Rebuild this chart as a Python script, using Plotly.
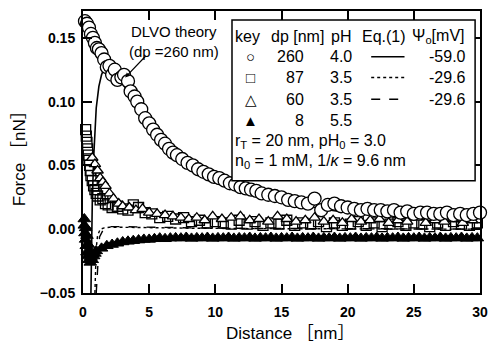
import plotly.graph_objects as go

# ---- measured force curves (distance in nm, force in nN) ----
# dp = 260 nm, pH 4.0 (open circles)
x_260 = [0.15, 0.3, 0.45, 0.6, 0.75, 0.9, 1.05, 1.2, 1.4, 1.6, 1.8, 2.0, 2.2, 2.4, 2.6,
         2.9, 3.1, 3.4, 3.6, 3.9, 4.1, 4.4, 4.7, 5.0, 5.3, 5.6, 5.9, 6.2, 6.5, 6.8, 7.1,
         7.5, 7.9, 8.3, 8.7, 9.1, 9.5, 9.9, 10.3, 10.7, 11.1, 11.5, 11.9, 12.3, 12.7,
         13.1, 13.5, 14.0, 14.5, 15.0, 15.5, 16.0, 16.5, 17.0, 17.5, 18.0, 18.5, 19.0,
         19.5, 20.0, 20.5, 21.0, 21.5, 22.0, 22.5, 23.0, 23.5, 24.0, 24.5, 25.0, 25.5,
         26.0, 26.5, 27.0, 27.5, 28.0, 28.5, 29.0, 29.5, 30.0]
f_260 = [0.163, 0.161, 0.158, 0.153, 0.150, 0.146, 0.142, 0.141, 0.138, 0.133, 0.127,
         0.128, 0.121, 0.125, 0.117, 0.119, 0.121, 0.116, 0.108, 0.104, 0.100, 0.094,
         0.087, 0.083, 0.078, 0.074, 0.070, 0.067, 0.063, 0.060, 0.058, 0.055, 0.052,
         0.050, 0.047, 0.045, 0.043, 0.041, 0.040, 0.038, 0.036, 0.035, 0.033, 0.032,
         0.031, 0.030, 0.028, 0.027, 0.026, 0.025, 0.023, 0.022, 0.021, 0.020, 0.024,
         0.015, 0.019, 0.020, 0.018, 0.017, 0.016, 0.015, 0.016, 0.015, 0.015, 0.014,
         0.015, 0.013, 0.014, 0.012, 0.013, 0.013, 0.012, 0.012, 0.013, 0.011, 0.012,
         0.011, 0.012, 0.013]

# dp = 87 nm, pH 3.5 (open squares)
x_87 = [0.2, 0.25, 0.3, 0.35, 0.4, 0.45, 0.5, 0.55, 0.6, 0.7, 0.8, 0.9, 1.0, 1.1, 1.3,
        1.5, 1.7, 1.9, 2.2, 2.6, 3.0, 3.4, 3.8, 4.2, 4.7, 5.2, 5.8, 6.4, 7.0, 7.6, 8.2,
        8.8, 9.4, 10.0, 10.6, 11.2, 11.8, 12.4, 13.0, 13.6, 14.2, 14.8, 15.4, 16.0,
        16.6, 17.2, 17.8, 18.4, 19.0, 19.6, 20.2, 20.8, 21.4, 22.0, 22.6, 23.2, 23.8,
        24.4, 25.0, 25.6, 26.2, 26.8, 27.4, 28.0, 28.6, 29.2, 29.8]
f_87 = [0.078, 0.073, 0.068, 0.063, 0.058, 0.054, 0.050, 0.046, 0.042, 0.038, 0.034,
        0.031, 0.028, 0.026, 0.023, 0.024, 0.020, 0.019, 0.017, 0.018, 0.016, 0.015,
        0.019, 0.017, 0.013, 0.012, 0.009, 0.010, 0.008, 0.009, 0.006, 0.007, 0.005,
        0.006, 0.005, 0.004, 0.007, 0.004, 0.006, 0.003, 0.005, 0.004, 0.007, 0.003,
        0.005, 0.004, 0.006, 0.002, 0.005, 0.003, 0.004, 0.006, 0.003, 0.005, 0.002,
        0.004, 0.006, 0.003, 0.005, 0.004, 0.002, 0.005, 0.003, 0.006, 0.004, 0.003,
        0.005]

# dp = 60 nm, pH 3.5 (open triangles)
x_60 = [0.7, 0.9, 1.1, 1.3, 1.5, 1.7, 2.0, 2.3, 2.7, 3.0, 3.5, 4.0, 4.5, 5.0, 5.6, 6.2,
        6.8, 7.4, 8.0, 8.6, 9.2, 9.8, 10.5, 11.2, 11.9, 12.6, 13.3, 14.0, 14.7, 15.4,
        16.1, 16.8, 17.5, 18.2, 18.9, 19.6, 20.3, 21.0, 21.7, 22.4, 23.1, 23.8, 24.5,
        25.2, 25.9, 26.6, 27.3, 28.0, 28.7, 29.4]
f_60 = [0.056, 0.051, 0.046, 0.040, 0.037, 0.034, 0.028, 0.024, 0.020, 0.018, 0.017,
        0.015, 0.016, 0.013, 0.012, 0.011, 0.010, 0.009, 0.008, 0.009, 0.007, 0.010,
        0.008, 0.009, 0.010, 0.007, 0.008, 0.006, 0.010, 0.008, 0.006, 0.007, 0.009,
        0.006, 0.007, 0.005, 0.008, 0.006, 0.007, 0.008, 0.005, 0.007, 0.006, 0.009,
        0.005, 0.007, 0.006, 0.008, 0.005, 0.007]

# dp = 8 nm, pH 5.5 (filled triangles)
x_8 = [0.1, 0.1, 0.15, 0.2, 0.2, 0.25, 0.3, 0.3, 0.35, 0.4, 0.45, 0.5, 0.55, 0.6, 0.7,
       0.8, 0.9,
       1.0, 1.4, 1.8, 2.2, 2.6, 3.0, 3.4, 3.8, 4.2, 4.6, 5.0, 5.4, 5.8, 6.2, 6.6, 7.0,
       7.4, 7.8, 8.2, 8.6, 9.0, 9.4, 9.8, 10.2, 10.6, 11.0, 11.4, 11.8, 12.2, 12.6,
       13.0, 13.4, 13.8, 14.2, 14.6, 15.0, 15.4, 15.8, 16.2, 16.6, 17.0, 17.4, 17.8,
       18.2, 18.6, 19.0, 19.4, 19.8, 20.2, 20.6, 21.0, 21.4, 21.8, 22.2, 22.6, 23.0,
       23.4, 23.8, 24.2, 24.6, 25.0, 25.4, 25.8, 26.2, 26.6, 27.0, 27.4, 27.8, 28.2,
       28.6, 29.0, 29.4, 29.8]
f_8 = [0.008, 0.003, -0.003, 0.001, -0.008, -0.013, -0.005, -0.018, -0.021, -0.012,
       -0.024, -0.017, -0.026, -0.022, -0.024, -0.021, -0.019,
       -0.017, -0.015, -0.013, -0.012, -0.011, -0.010, -0.0095, -0.009, -0.0085, -0.008,
       -0.008, -0.0075, -0.007, -0.0075, -0.007, -0.0068, -0.007, -0.0065, -0.0072,
       -0.0068, -0.007, -0.0065, -0.0072, -0.0068, -0.007, -0.0065, -0.0072, -0.0068,
       -0.007, -0.0065, -0.0072, -0.0068, -0.007, -0.0065, -0.0072, -0.0068, -0.007,
       -0.0065, -0.0072, -0.0068, -0.007, -0.0065, -0.0072, -0.0068, -0.007, -0.0065,
       -0.0072, -0.0068, -0.007, -0.0065, -0.0072, -0.0068, -0.007, -0.0065, -0.0072,
       -0.0068, -0.007, -0.0065, -0.0072, -0.0068, -0.007, -0.0065, -0.0072, -0.0068,
       -0.007, -0.0065, -0.0072, -0.0068, -0.007, -0.0065, -0.0072, -0.0068, -0.007]

# ---- Eq.(1) DLVO curves ----
x_eq_260 = [0.6, 0.65, 0.7, 0.8, 0.9, 1.0, 1.2, 1.4, 1.6, 1.8, 2.0, 2.3, 2.6, 3.0, 3.5,
            4.0, 5.0, 6.0, 7.0, 8.0, 9.0, 10.0, 12.0, 14.0, 16.0, 18.0, 20.0, 22.0,
            24.0, 26.0, 28.0, 30.0]
f_eq_260 = [-0.05, -0.01, 0.02, 0.055, 0.080, 0.095, 0.112, 0.121, 0.126, 0.128, 0.127,
            0.124, 0.120, 0.114, 0.106, 0.098, 0.083, 0.070, 0.060, 0.051, 0.045, 0.040,
            0.031, 0.025, 0.020, 0.016, 0.013, 0.011, 0.009, 0.007, 0.006, 0.005]

x_eq_87 = [0.9, 0.95, 1.0, 1.1, 1.3, 1.6, 2.0, 3.0, 5.0, 8.0, 12.0, 16.0, 20.0, 25.0, 30.0]
f_eq_87 = [-0.05, -0.03, -0.015, -0.005, 0.0, 0.001, 0.0015, 0.0015, 0.001, 0.0008,
           0.0005, 0.0003, 0.0002, 0.0001, 0.0]

x_eq_60 = [1.0, 1.05, 1.1, 1.15, 1.25, 1.5, 1.8, 2.1, 2.5, 3.0, 4.0, 6.0, 9.0, 13.0,
           18.0, 24.0, 30.0]
f_eq_60 = [-0.05, -0.04, -0.03, -0.02, -0.006, -0.001, 0.001, 0.002, 0.0022, 0.002,
           0.0018, 0.0013, 0.0009, 0.0006, 0.0003, 0.0002, 0.0001]

# ---- legend table ----
table_header = ["key", "dp [nm]", "pH", "Eq.(1)", "Ψ<sub>o</sub>[mV]"]
table_keys = ["○", "□", "△", "▲"]
table_dp = ["260", "87", "60", "8"]
table_ph = ["4.0", "3.5", "3.5", "5.5"]
table_psi = ["-59.0", "-29.6", "-29.6", ""]
table_dash = ["solid", "dot", "dash", None]
table_notes = ["r<sub>T</sub> = 20 nm, pH<sub>0</sub> = 3.0",
               "n<sub>0</sub> = 1 mM, 1/<i>κ</i> = 9.6 nm"]

FONT = "Arial, Liberation Sans, sans-serif"
TITLE_FONT = "Arial, Liberation Sans, Noto Sans CJK JP, sans-serif"
BLACK = "black"

# plot-area pixel frame used to place the table and labels
L, R, T, B = 83, 488, 9, 293


def px(x):
    return (x - L) / (R - L)


def py(y):
    return (B - y) / (B - T)


fig = go.Figure()

mk_line = dict(color=BLACK, width=1.3)

fig.add_trace(go.Scatter(x=x_eq_260, y=f_eq_260, mode="lines",
                         line=dict(color=BLACK, width=1.6, dash="solid")))
fig.add_trace(go.Scatter(x=x_eq_87, y=f_eq_87, mode="lines",
                         line=dict(color=BLACK, width=1.4, dash="dot")))
fig.add_trace(go.Scatter(x=x_eq_60, y=f_eq_60, mode="lines",
                         line=dict(color=BLACK, width=1.4, dash="dash")))

fig.add_trace(go.Scatter(x=x_8, y=f_8, mode="markers", cliponaxis=False,
                         marker=dict(symbol="triangle-up", size=11, color=BLACK,
                                     line=dict(color=BLACK, width=1))))
fig.add_trace(go.Scatter(x=x_87, y=f_87, mode="markers", cliponaxis=False,
                         marker=dict(symbol="square-open", size=10, color=BLACK,
                                     line=mk_line)))
fig.add_trace(go.Scatter(x=x_60, y=f_60, mode="markers", cliponaxis=False,
                         marker=dict(symbol="triangle-up", size=10, color="white",
                                     line=mk_line)))
fig.add_trace(go.Scatter(x=x_260, y=f_260, mode="markers", cliponaxis=False,
                         marker=dict(symbol="circle", size=13, color="white",
                                     line=mk_line)))

shapes = []
annotations = []

# legend frame
shapes.append(dict(type="rect", xref="paper", yref="paper",
                   x0=px(235), x1=px(483), y0=py(180), y1=py(18),
                   line=dict(color=BLACK, width=1.5), fillcolor="white", layer="above"))

row_y = [35, 55, 76, 98, 119, 140, 161]


def txt(x, y, text, anchor="center", size=16, family=FONT):
    annotations.append(dict(x=px(x), y=py(y), xref="paper", yref="paper", text=text,
                            showarrow=False, xanchor=anchor, yanchor="middle",
                            font=dict(family=family, size=size, color=BLACK)))


header_x = [251, 302, 346, 390, 446]
for hx, h in zip(header_x, table_header):
    txt(hx, row_y[0], h)

for i in range(4):
    y = row_y[i + 1]
    txt(254, y, table_keys[i], size=15)
    txt(311, y, table_dp[i], anchor="right")
    txt(346, y, table_ph[i])
    if table_psi[i]:
        txt(476, y, table_psi[i], anchor="right")
    if table_dash[i]:
        shapes.append(dict(type="line", xref="paper", yref="paper",
                           x0=px(377), x1=px(411), y0=py(y), y1=py(y),
                           line=dict(color=BLACK, width=1.5, dash=table_dash[i]),
                           layer="above"))

txt(236, row_y[5], table_notes[0], anchor="left")
txt(236, row_y[6], table_notes[1], anchor="left")

# theory curve label with pointer
txt(176, 40, "DLVO theory<br>(dp =260 nm)", size=15)
annotations.append(dict(x=px(126), y=py(76), xref="paper", yref="paper",
                        ax=22, ay=-23, axref="pixel", ayref="pixel",
                        text="", showarrow=True, arrowhead=2, arrowsize=0.8,
                        arrowwidth=1.2, arrowcolor=BLACK))

# axis titles
txt(294, 334, "Distance ［nm］", size=17, family=TITLE_FONT)
annotations.append(dict(x=px(19), y=py(153), xref="paper", yref="paper",
                        text="Force ［nN］", showarrow=False, textangle=-90,
                        xanchor="center", yanchor="middle",
                        font=dict(family=TITLE_FONT, size=17, color=BLACK)))

axis_common = dict(showline=True, linecolor=BLACK, linewidth=2, mirror="ticks",
                   ticks="inside", ticklen=9, tickwidth=1.5, tickcolor=BLACK,
                   showgrid=False, zeroline=False,
                   tickfont=dict(family=FONT, size=14, color=BLACK, weight="bold"))

fig.update_layout(
    width=497, height=345,
    margin=dict(l=L, r=497 - R, t=T, b=345 - B),
    paper_bgcolor="white", plot_bgcolor="white",
    showlegend=False,
    xaxis=dict(range=[0, 30], tickvals=[0, 5, 10, 15, 20, 25, 30],
               ticklabelstandoff=5, **axis_common),
    yaxis=dict(range=[-0.05, 0.171], tickvals=[-0.05, 0.0, 0.05, 0.10, 0.15],
               tickformat=".2f", ticklabelstandoff=3, **axis_common),
    shapes=shapes,
    annotations=annotations,
)

fig.write_html("out.html")
